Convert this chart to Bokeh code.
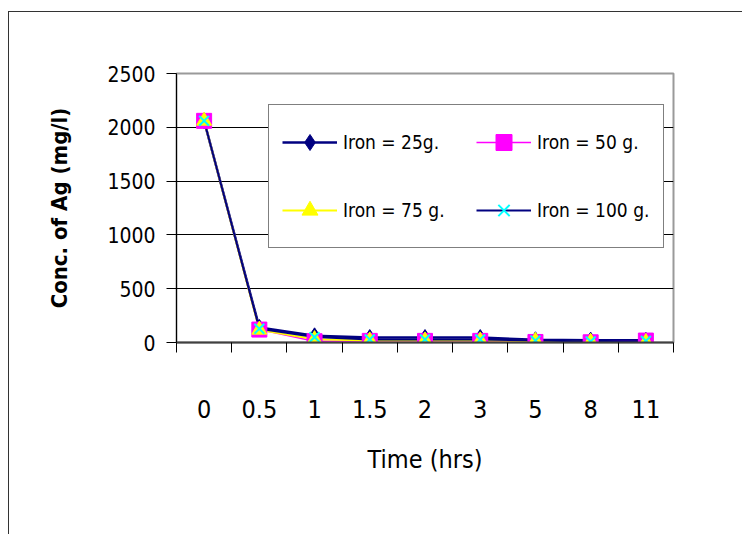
from bokeh.plotting import figure
from bokeh.models import FixedTicker, Legend, LegendItem, Range1d
from bokeh.embed import file_html
from bokeh.resources import INLINE

# ---- data ----
times = ["0", "0.5", "1", "1.5", "2", "3", "5", "8", "11"]
iron_25 = [2060, 140, 62, 46, 46, 46, 25, 22, 20]
iron_50 = [2060, 120, 12, 15, 15, 15, 5, 2, 18]
iron_75 = [2060, 118, 30, 18, 18, 18, 15, 5, 3]
iron_100 = [2060, 128, 50, 28, 28, 28, 18, 10, 15]
series_labels = ["Iron = 25g.", "Iron = 50 g.", "Iron = 75 g.", "Iron = 100 g."]
y_ticks = [0, 500, 1000, 1500, 2000, 2500]

FONT = "'Liberation Sans Narrow', 'Arial Narrow', 'DejaVu Sans Condensed', sans-serif"

n = len(times)
xs = list(range(n))

p = figure(width=734, height=523,
           x_range=Range1d(-0.5, n - 0.5), y_range=Range1d(0, 2500),
           output_backend="svg", toolbar_location=None,
           min_border_left=167, min_border_right=70,
           min_border_top=61, min_border_bottom=193,
           margin=(11, 0, 0, 8),
           styles={"border-left": "1px solid #333333", "border-top": "1px solid #333333"})

p.background_fill_color = "white"
p.border_fill_color = "white"
p.outline_line_color = "#9a9a9a"
p.outline_line_width = 2

# grid
p.xgrid.grid_line_color = None
p.ygrid.grid_line_color = "black"
p.ygrid.grid_line_width = 1
p.ygrid.ticker = FixedTicker(ticks=y_ticks)

# x axis
xa = p.xaxis[0]
xa.ticker = FixedTicker(ticks=xs, minor_ticks=[i - 0.5 for i in range(n + 1)])
xa.major_label_overrides = {i: t for i, t in enumerate(times)}
xa.major_tick_out = 0
xa.major_tick_in = 0
xa.minor_tick_out = 10
xa.minor_tick_in = 0
xa.minor_tick_line_color = "black"
xa.axis_line_color = "#404040"
xa.axis_line_width = 2
xa.major_label_standoff = 47
xa.major_label_text_font = FONT
xa.major_label_text_font_size = "25px"
xa.major_label_text_color = "black"
xa.axis_label = "Time (hrs)"
xa.axis_label_text_font = FONT
xa.axis_label_text_font_size = "25px"
xa.axis_label_text_font_style = "normal"
xa.axis_label_text_color = "black"
xa.axis_label_standoff = 24

# y axis
ya = p.yaxis[0]
ya.ticker = FixedTicker(ticks=y_ticks)
ya.major_tick_out = 10
ya.major_tick_in = 0
ya.minor_tick_line_color = None
ya.major_tick_line_color = "black"
ya.axis_line_color = "black"
ya.axis_line_width = 1
ya.major_label_standoff = 11
ya.major_label_text_font = FONT
ya.major_label_text_font_size = "21px"
ya.major_label_text_color = "black"
ya.axis_label = "Conc. of Ag (mg/l)"
ya.axis_label_text_font = FONT
ya.axis_label_text_font_size = "22px"
ya.axis_label_text_font_style = "bold"
ya.axis_label_text_color = "black"
ya.axis_label_standoff = 32

# lines first
l1 = p.line(xs, iron_25, line_color="#000080", line_width=2.5)
l2 = p.line(xs, iron_50, line_color="#FF00FF", line_width=1.5)
l3 = p.line(xs, iron_75, line_color="#FFFF00", line_width=2)
l4 = p.line(xs, iron_100, line_color="#000080", line_width=2)

# markers on top
m1 = p.scatter(xs, iron_25, marker="diamond", size=16, fill_color="#000080", line_color="#000080")
m2 = p.scatter(xs, iron_50, marker="square", size=15, fill_color="#FF00FF", line_color="#FF00FF")
m3 = p.scatter(xs, iron_75, marker="triangle", size=15, fill_color="#FFFF00", line_color="#FFFF00")
m4 = p.scatter(xs, iron_100, marker="x", size=14, line_color="#00FFFF", line_width=2)

# legend laid out in columns: first column 25 g / 75 g, second 50 g / 100 g
items = [
    LegendItem(label=series_labels[0], renderers=[l1, m1]),
    LegendItem(label=series_labels[2], renderers=[l3, m3]),
    LegendItem(label=series_labels[1], renderers=[l2, m2]),
    LegendItem(label=series_labels[3], renderers=[l4, m4]),
]
legend = Legend(items=items, location=(92, 94), ncols=2,
                border_line_color="black", border_line_width=1,
                background_fill_color="white", background_fill_alpha=1,
                label_text_font=FONT, label_text_font_size="19px",
                label_text_color="black",
                glyph_width=55, glyph_height=40, label_height=48,
                label_width=113, spacing=20, padding=13, label_standoff=6,
                margin=0)
p.add_layout(legend)

open("out.html", "w").write(file_html(p, INLINE))
